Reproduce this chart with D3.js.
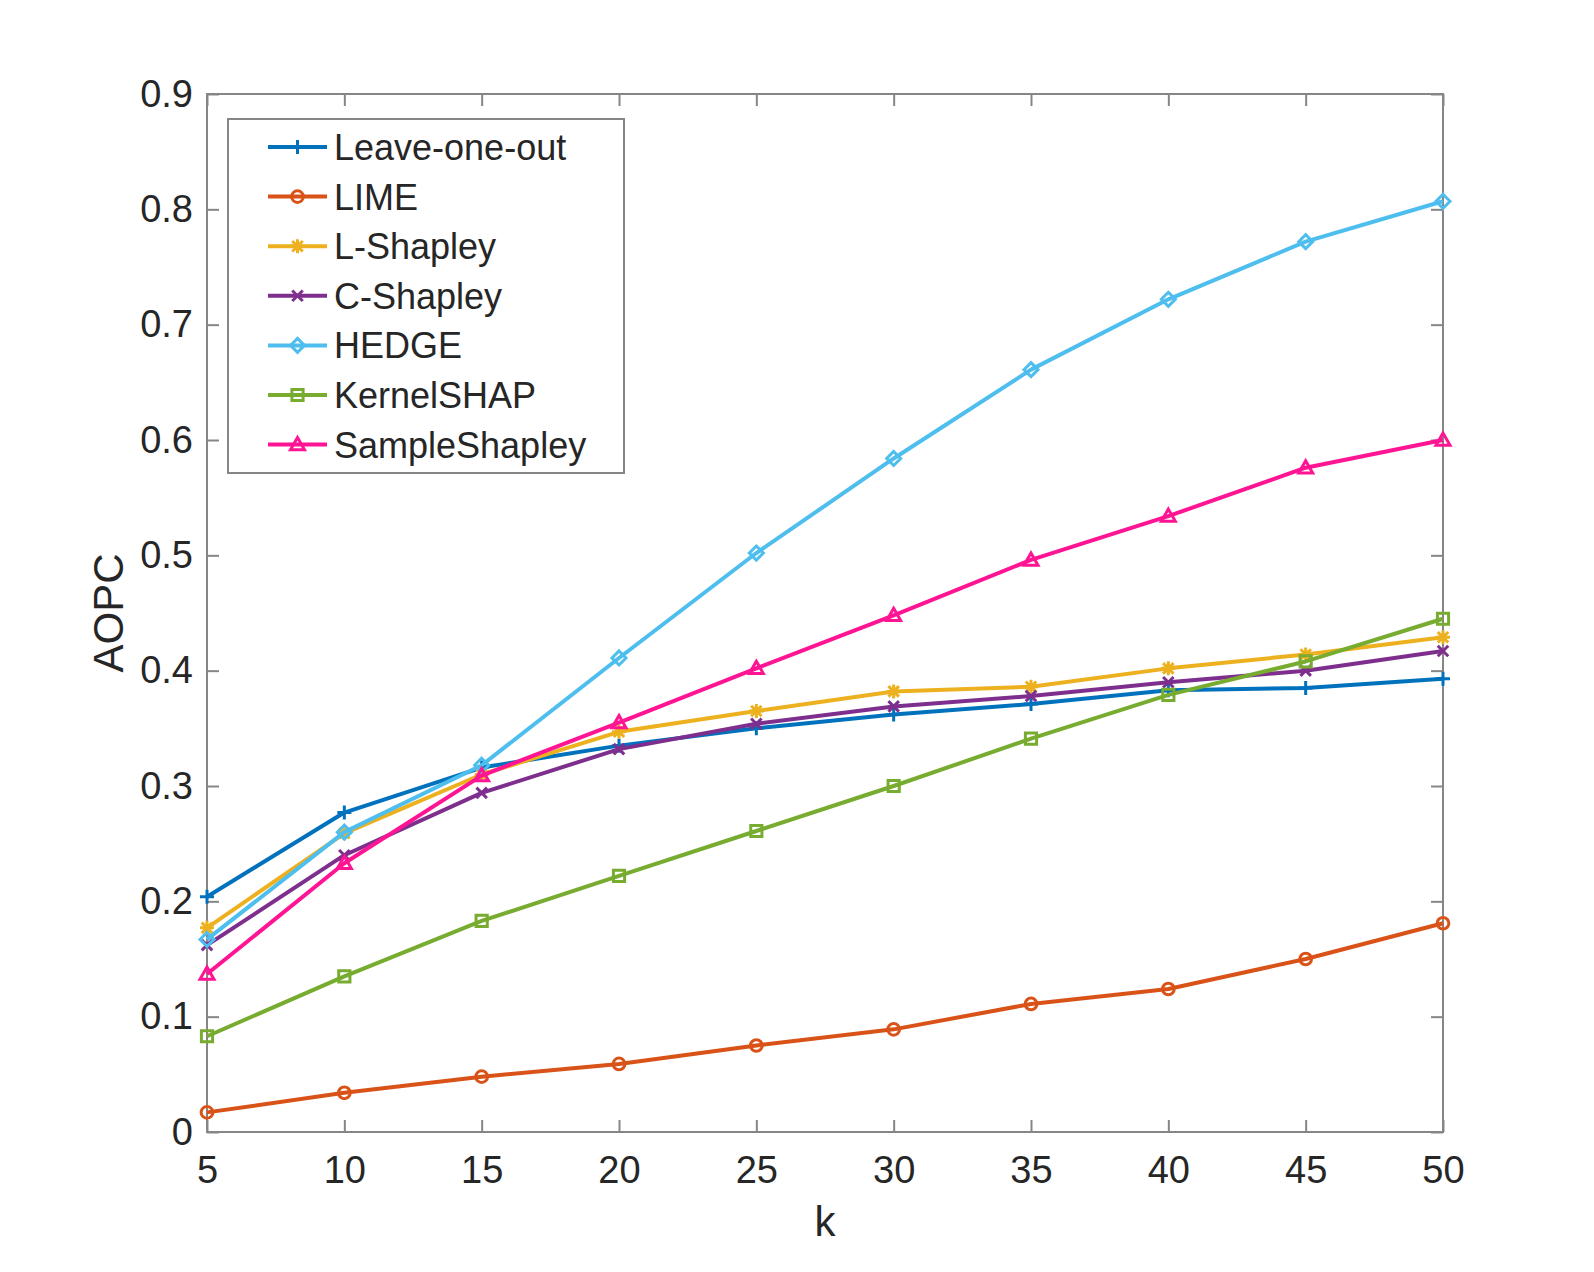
<!DOCTYPE html>
<html lang="en">
	<head>
		<meta charset="UTF-8">
		<title>AOPC vs k</title>
		<style>
			body{
				margin:0;
				background:#fff;
			}
			svg text{
				font-family:"Liberation Sans", Arial, Helvetica, sans-serif;
				fill:#262626;
			}
			.line{
				fill:none;
				stroke-width:4;
				stroke-linejoin:round;
			}
			.marker{
				fill:none;
				stroke-width:3;
			}
		</style>
	</head>
	<body>
		<svg width="1594" height="1272"></svg>
		<script type="text/javascript" src="https://cdn.jsdelivr.net/npm/d3@7/dist/d3.min.js"></script>
		<script>
			// data
			var kValues = [5,10,15,20,25,30,35,40,45,50];
			var seriesNames = ["Leave-one-out","LIME","L-Shapley","C-Shapley","HEDGE","KernelSHAP","SampleShapley"];
			var leaveOneOut = [0.204,0.277,0.316,0.335,0.350,0.362,0.371,0.383,0.385,0.393];
			var lime = [0.017,0.034,0.048,0.059,0.075,0.089,0.111,0.124,0.150,0.181];
			var lShapley = [0.177,0.259,0.310,0.347,0.365,0.382,0.386,0.402,0.414,0.429];
			var cShapley = [0.162,0.240,0.294,0.332,0.354,0.369,0.378,0.390,0.400,0.417];
			var hedge = [0.167,0.260,0.318,0.411,0.502,0.584,0.661,0.722,0.772,0.807];
			var kernelShap = [0.083,0.135,0.183,0.222,0.261,0.300,0.341,0.379,0.408,0.445];
			var sampleShapley = [0.137,0.233,0.309,0.355,0.402,0.448,0.496,0.534,0.576,0.600];
			var yTicks = [0,0.1,0.2,0.3,0.4,0.5,0.6,0.7,0.8,0.9];
			var colors = ["#0072BD","#D95319","#EDB120","#7E2F8E","#4DBEEE","#77AC30","#FF1493"];
			var markers = ["plus","circle","star","cross","diamond","square","triangle"];

			var allValues = [leaveOneOut,lime,lShapley,cShapley,hedge,kernelShap,sampleShapley];
			var series = seriesNames.map(function(name,i){
				return {name:name,color:colors[i],marker:markers[i],
					values:kValues.map(function(k,j){return {k:k,v:allValues[i][j]};})};
			});

			var svg = d3.select("svg"),
				margin = {top:94,right:151,bottom:140,left:207},
				width = svg.attr("width") - margin.left - margin.right,
				height = svg.attr("height") - margin.top - margin.bottom;

			var x = d3.scaleLinear().domain([5,50]).range([0,width]);
			var y = d3.scaleLinear().domain([0,0.9]).range([height,0]);

			var g = svg.append("g")
				.attr("transform","translate("+margin.left+","+margin.top+")");

			// marker shapes, s = half size
			function markerPath(type,s){
				switch(type){
					case "plus": return "M"+(-s)+",0H"+s+"M0,"+(-s)+"V"+s;
					case "cross": return "M"+(-s*0.75)+","+(-s*0.75)+"L"+(s*0.75)+","+(s*0.75)+"M"+(-s*0.75)+","+(s*0.75)+"L"+(s*0.75)+","+(-s*0.75);
					case "star": return markerPath("plus",s)+markerPath("cross",s);
					case "circle": return d3.symbol(d3.symbolCircle,Math.PI*s*s*0.7)();
					case "square": return "M"+(-s*0.8)+","+(-s*0.8)+"h"+(s*1.6)+"v"+(s*1.6)+"h"+(-s*1.6)+"Z";
					case "diamond": return "M0,"+(-s)+"L"+s+",0L0,"+s+"L"+(-s)+",0Z";
					case "triangle": return "M0,"+(-s)+"L"+s+","+(s*0.75)+"L"+(-s)+","+(s*0.75)+"Z";
				}
			}

			var axisColor = "#868686";
			var tickLen = 12;

			// box
			g.append("rect")
				.attr("width",width)
				.attr("height",height)
				.attr("fill","none")
				.attr("stroke",axisColor)
				.attr("stroke-width",2);

			// x axis (ticks inside, top and bottom)
			var xAxis = g.append("g")
				.attr("transform","translate(0,"+height+")")
				.call(d3.axisBottom(x).tickValues(kValues).tickSize(-tickLen).tickPadding(24));
			var xTop = g.append("g")
				.call(d3.axisTop(x).tickValues(kValues).tickSize(-tickLen).tickFormat(""));
			var yAxis = g.append("g")
				.call(d3.axisLeft(y).tickValues(yTicks).tickSize(-tickLen).tickPadding(14).tickFormat(d3.format("")));
			var yRight = g.append("g")
				.attr("transform","translate("+width+",0)")
				.call(d3.axisRight(y).tickValues(yTicks).tickSize(-tickLen).tickFormat(""));

			[xAxis,xTop,yAxis,yRight].forEach(function(a){
				a.select(".domain").remove();
				a.selectAll(".tick line").attr("stroke",axisColor).attr("stroke-width",2);
				a.selectAll(".tick text").attr("font-size",38).attr("fill","#262626")
					.style("font-family","'Liberation Sans', Arial, sans-serif");
			});
			xAxis.selectAll(".tick text").attr("dy","0.71em");

			// axis labels
			g.append("text")
				.attr("x",width/2)
				.attr("y",height+104)
				.attr("text-anchor","middle")
				.attr("font-size",42)
				.text("k");
			g.append("text")
				.attr("transform","translate(-84,"+(height/2)+") rotate(-90)")
				.attr("text-anchor","middle")
				.attr("font-size",42)
				.text("AOPC");

			// lines and markers
			var line = d3.line()
				.x(function(d){return x(d.k);})
				.y(function(d){return y(d.v);});

			var sg = g.selectAll(".series")
				.data(series)
				.enter()
				.append("g")
				.attr("class","series");
			sg.append("path")
				.attr("class","line")
				.attr("stroke",function(d){return d.color;})
				.attr("d",function(d){return line(d.values);});
			sg.each(function(s){
				d3.select(this).selectAll(".marker")
					.data(s.values)
					.enter()
					.append("path")
					.attr("class","marker")
					.attr("stroke",s.color)
					.attr("transform",function(d){return "translate("+x(d.k)+","+y(d.v)+")";})
					.attr("d",markerPath(s.marker,7));
			});

			// legend
			var lg = svg.append("g")
				.attr("transform","translate(228,119)");
			lg.append("rect")
				.attr("width",396)
				.attr("height",354)
				.attr("fill","#fff")
				.attr("stroke",axisColor)
				.attr("stroke-width",2);
			var item = lg.selectAll(".item")
				.data(series)
				.enter()
				.append("g")
				.attr("class","item")
				.attr("transform",function(d,i){return "translate(0,"+(28+i*49.6)+")";});
			item.append("line")
				.attr("x1",40)
				.attr("x2",99)
				.attr("stroke",function(d){return d.color;})
				.attr("stroke-width",4);
			item.append("path")
				.attr("class","marker")
				.attr("transform","translate(69.5,0)")
				.attr("stroke",function(d){return d.color;})
				.attr("d",function(d){return markerPath(d.marker,7);});
			item.append("text")
				.attr("x",106)
				.attr("dy","0.36em")
				.attr("font-size",36)
				.text(function(d){return d.name;});
		</script>
	</body>
</html>
